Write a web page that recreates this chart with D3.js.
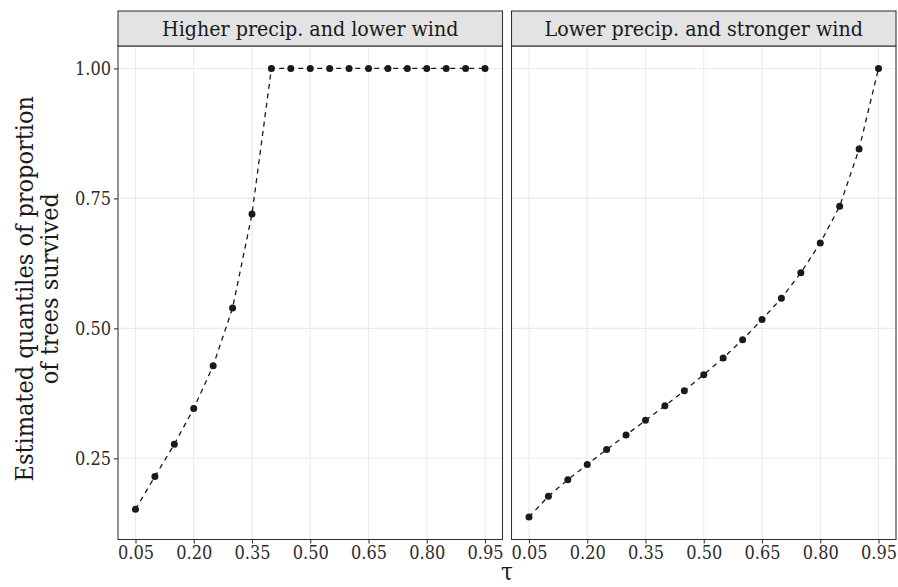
<!DOCTYPE html>
<html>
<head>
<meta charset="utf-8">
<script src="https://cdn.jsdelivr.net/npm/d3@7"></script>
<style>
  html, body { margin: 0; padding: 0; background: #fff; }
  svg { display: block; }
  text { font-family: "DejaVu Serif", serif; font-stretch: condensed; }
</style>
</head>
<body>
<svg id="chart" width="898" height="587"></svg>
<script>
// Quantile levels (tau) shared by both panels
const taus = [0.05, 0.10, 0.15, 0.20, 0.25, 0.30, 0.35, 0.40, 0.45, 0.50,
              0.55, 0.60, 0.65, 0.70, 0.75, 0.80, 0.85, 0.90, 0.95];

// Estimated quantiles, higher precipitation and lower wind
const higherPrecip = [0.152, 0.215, 0.277, 0.346, 0.428, 0.539, 0.720, 1.00, 1.00, 1.00,
                      1.00, 1.00, 1.00, 1.00, 1.00, 1.00, 1.00, 1.00, 1.00];

// Estimated quantiles, lower precipitation and stronger wind
const lowerPrecip = [0.137, 0.177, 0.209, 0.238, 0.267, 0.295, 0.323, 0.351, 0.380, 0.411,
                     0.443, 0.478, 0.517, 0.558, 0.607, 0.664, 0.735, 0.845, 1.00];

const panelTitles = ["Higher precip. and lower wind", "Lower precip. and stronger wind"];
const xTicks = [0.05, 0.20, 0.35, 0.50, 0.65, 0.80, 0.95];
const yTicks = [0.25, 0.50, 0.75, 1.00];

const panels = [
  { title: panelTitles[0], values: higherPrecip },
  { title: panelTitles[1], values: lowerPrecip }
];

const svg = d3.select("#chart");

const panelW = 384.5, gap = 9;
const left0 = 118;
const stripTop = 11, stripH = 35;
const plotTop = stripTop + stripH, plotBottom = 539.5;

// y domain with 5% expansion like ggplot
const allVals = higherPrecip.concat(lowerPrecip);
const yMin = d3.min(allVals), yMax = d3.max(allVals);
const yPad = (yMax - yMin) * 0.05;
const y = d3.scaleLinear().domain([yMin - yPad, yMax + yPad]).range([plotBottom, plotTop]);

const xPad = (d3.max(taus) - d3.min(taus)) * 0.05;

const lineCol = "#333333";
const tickFont = 18;

panels.forEach((p, i) => {
  const x0 = left0 + i * (panelW + gap);
  const x = d3.scaleLinear().domain([d3.min(taus) - xPad, d3.max(taus) + xPad]).range([x0, x0 + panelW]);
  const g = svg.append("g");

  // grid
  g.selectAll(".vg").data(xTicks).enter().append("line")
    .attr("x1", d => x(d)).attr("x2", d => x(d))
    .attr("y1", plotTop).attr("y2", plotBottom)
    .attr("stroke", "#ebebeb").attr("stroke-width", 1.07);
  g.selectAll(".hg").data(yTicks).enter().append("line")
    .attr("x1", x0).attr("x2", x0 + panelW)
    .attr("y1", d => y(d)).attr("y2", d => y(d))
    .attr("stroke", "#ebebeb").attr("stroke-width", 1.07);

  // dashed connecting line
  const pts = taus.map((t, k) => [t, p.values[k]]);
  g.append("path")
    .datum(pts)
    .attr("d", d3.line().x(d => x(d[0])).y(d => y(d[1])))
    .attr("fill", "none").attr("stroke", "#1a1a1a")
    .attr("stroke-width", 1.3).attr("stroke-dasharray", "5,4.5");

  // points
  g.selectAll(".pt").data(pts).enter().append("circle")
    .attr("cx", d => x(d[0])).attr("cy", d => y(d[1]))
    .attr("r", 3.5).attr("fill", "#1a1a1a");

  // panel border
  g.append("rect")
    .attr("x", x0).attr("y", plotTop).attr("width", panelW).attr("height", plotBottom - plotTop)
    .attr("fill", "none").attr("stroke", lineCol).attr("stroke-width", 1.07);

  // strip
  g.append("rect")
    .attr("x", x0).attr("y", stripTop).attr("width", panelW).attr("height", stripH)
    .attr("fill", "#e3e3e3").attr("stroke", lineCol).attr("stroke-width", 1.07);
  g.append("text")
    .attr("x", x0 + panelW / 2).attr("y", stripTop + stripH / 2 + 7)
    .attr("text-anchor", "middle").attr("font-size", 21.2).attr("fill", "#1a1a1a")
    .text(p.title);

  // x axis
  const xAxis = d3.axisBottom(x).tickValues(xTicks).tickFormat(d3.format(".2f")).tickSize(4).tickPadding(3);
  const ax = g.append("g").attr("transform", `translate(0,${plotBottom})`).call(xAxis);
  ax.select(".domain").remove();
  ax.selectAll("line").attr("stroke", lineCol).attr("stroke-width", 1.07);
  ax.selectAll("text").attr("font-size", tickFont).attr("fill", "#2b2b2b").attr("font-family", null);

  if (i === 0) {
    const yAxis = d3.axisLeft(y).tickValues(yTicks).tickFormat(d3.format(".2f")).tickSize(4).tickPadding(3);
    const ay = g.append("g").attr("transform", `translate(${x0},0)`).call(yAxis);
    ay.select(".domain").remove();
    ay.selectAll("line").attr("stroke", lineCol).attr("stroke-width", 1.07);
    ay.selectAll("text").attr("font-size", tickFont).attr("fill", "#2b2b2b").attr("font-family", null);
  }
});

// axis titles
svg.append("text")
  .attr("x", left0 + panelW + gap / 2).attr("y", 580)
  .attr("text-anchor", "middle").attr("font-size", 24).attr("fill", "#1a1a1a")
  .text("τ");

const yt = svg.append("text")
  .attr("transform", `translate(0,${(plotTop + plotBottom) / 2 - 4}) rotate(-90)`)
  .attr("text-anchor", "middle").attr("font-size", 25).attr("fill", "#1a1a1a");
yt.append("tspan").attr("x", 0).attr("y", 33).text("Estimated quantiles of proportion");
yt.append("tspan").attr("x", 0).attr("y", 58).text("of trees survived");
</script>
</body>
</html>
